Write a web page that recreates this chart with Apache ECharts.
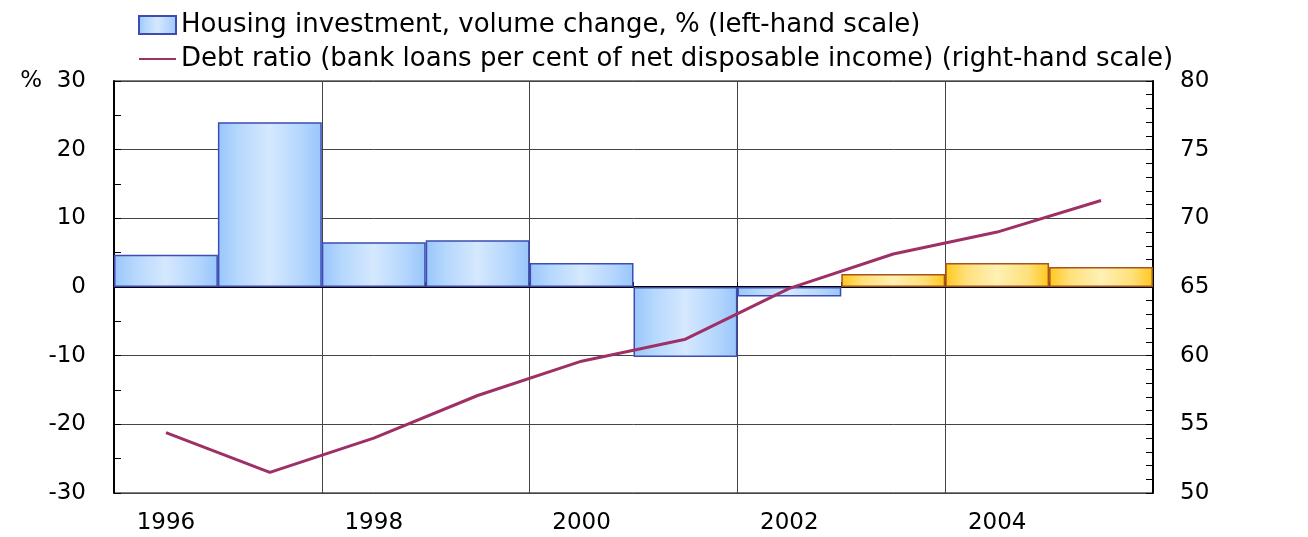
<!DOCTYPE html>
<html>
<head>
<meta charset="utf-8">
<script src="https://cdn.jsdelivr.net/npm/echarts@6/dist/echarts.min.js"></script>
<style>
  html, body { margin: 0; padding: 0; background: #fff; }
  #chart { width: 1308px; height: 537px; }
</style>
</head>
<body>
<div id="chart"></div>
<script>
// data
const years = ['1996', '1997', '1998', '1999', '2000', '2001', '2002', '2003', '2004', '2005']
const housingInvestment = [4.7, 24.0, 6.5, 6.8, 3.5, -10.2, -1.4, 1.9, 3.5, 2.9]
const debtRatio = [54.4, 51.5, 54.0, 57.1, 59.6, 61.2, 64.9, 67.4, 69.0, 71.3]
// from this year on the bars are drawn in orange (projections)
const forecastFrom = 7

const font = 'DejaVu Sans, Verdana, sans-serif'

const blueFill = new echarts.graphic.LinearGradient(0, 0, 1, 0, [
  { offset: 0, color: '#98c6fb' },
  { offset: 0.2, color: '#b6d8fd' },
  { offset: 0.5, color: '#d5e8fe' },
  { offset: 0.8, color: '#b4d6fd' },
  { offset: 1, color: '#98c6fb' }
])
const orangeFill = new echarts.graphic.LinearGradient(0, 0, 1, 0, [
  { offset: 0, color: '#ffc81c' },
  { offset: 0.2, color: '#ffe07a' },
  { offset: 0.5, color: '#fff1b4' },
  { offset: 0.8, color: '#ffe07a' },
  { offset: 1, color: '#ffc81c' }
])

let barData = housingInvestment.map((v, i) => {
  if (i >= forecastFrom) {
    return { value: v, itemStyle: { color: orangeFill, borderColor: '#a8521c' } }
  }
  return v
})

let chart = echarts.init(document.getElementById('chart'))
let option = {
  animation: false,
  textStyle: { fontFamily: font },
  legend: {
    left: 133,
    top: 7,
    orient: 'vertical',
    itemWidth: 37,
    itemHeight: 18,
    itemGap: 8,
    textStyle: { fontSize: 26, color: '#000', fontFamily: font },
    data: [
      { name: 'Housing investment, volume change, % (left-hand scale)', icon: 'rect' },
      {
        name: 'Debt ratio (bank loans per cent of net disposable income) (right-hand scale)',
        itemStyle: { opacity: 0 }
      }
    ]
  },
  grid: {
    left: 114,
    right: 155,
    top: 81,
    bottom: 44,
    show: true,
    borderColor: '#000',
    borderWidth: 1
  },
  xAxis: {
    type: 'category',
    data: years,
    boundaryGap: true,
    axisLine: { lineStyle: { color: '#000', width: 2 } },
    axisTick: { show: true, inside: true, length: 5, interval: 0, lineStyle: { color: '#000' } },
    axisLabel: { interval: 1, fontSize: 23, color: '#000', margin: 19 },
    splitLine: {
      show: true,
      interval: (idx) => idx % 2 === 0,
      lineStyle: { color: '#444', width: 1 }
    }
  },
  yAxis: [
    {
      type: 'value',
      min: -30,
      max: 30,
      interval: 10,
      axisLine: { show: true, lineStyle: { color: '#000', width: 2 } },
      axisTick: { show: true, inside: true, length: 7, lineStyle: { color: '#000' } },
      minorTick: { show: true, splitNumber: 2, length: 7, lineStyle: { color: '#000' } },
      axisLabel: {
        fontSize: 23,
        color: '#000',
        margin: 28,
        formatter: (v) => (v === 30 ? '%  30' : String(v))
      },
      splitLine: { show: true, lineStyle: { color: '#444', width: 1 } }
    },
    {
      type: 'value',
      min: 50,
      max: 80,
      interval: 5,
      position: 'right',
      axisLine: { show: true, lineStyle: { color: '#000', width: 2 } },
      axisTick: { show: true, inside: true, length: 7, lineStyle: { color: '#000' } },
      minorTick: { show: true, splitNumber: 5, length: 7, lineStyle: { color: '#000' } },
      axisLabel: { fontSize: 23, color: '#000', margin: 27 },
      splitLine: { show: false }
    }
  ],
  series: [
    {
      name: 'Housing investment, volume change, % (left-hand scale)',
      type: 'bar',
      yAxisIndex: 0,
      barCategoryGap: '0%',
      itemStyle: { color: blueFill, borderColor: '#3c4cb4', borderWidth: 1.5 },
      data: barData,
      z: 2
    },
    {
      name: 'Debt ratio (bank loans per cent of net disposable income) (right-hand scale)',
      type: 'line',
      yAxisIndex: 1,
      symbol: 'none',
      lineStyle: { color: '#9e3066', width: 3 },
      itemStyle: { color: '#9e3066' },
      data: debtRatio,
      z: 3
    }
  ]
}
chart.setOption(option)
</script>
</body>
</html>
